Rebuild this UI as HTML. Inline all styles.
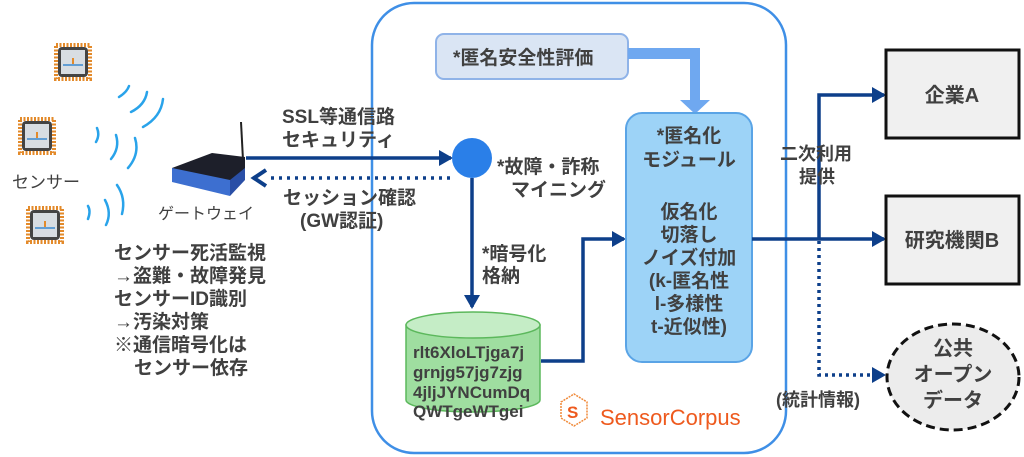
<!DOCTYPE html>
<html><head><meta charset="utf-8"><style>
html,body{margin:0;padding:0;background:#fff;}
svg{display:block;}
text{font-family:"Liberation Sans","Noto Sans CJK JP",sans-serif;font-weight:bold;fill:#404040;}
</style></head><body>
<svg width="1024" height="457" viewBox="0 0 1024 457" xmlns="http://www.w3.org/2000/svg">
<defs>
<marker id="ah" markerWidth="14" markerHeight="16" refX="12" refY="8" orient="auto" markerUnits="userSpaceOnUse"><path d="M0,0 L14,8 L0,16z" fill="#0d3f8a"/></marker>
<g id="chip">
<rect x="-17" y="-17" width="34" height="34" fill="none" stroke="#e38a2a" stroke-width="4" stroke-dasharray="2 1.5"/>
<rect x="-15" y="-15" width="30" height="30" rx="4" fill="#444"/>
<rect x="-12" y="-12" width="24" height="24" fill="#d8dde2"/>
<path d="M-10,3 h20" stroke="#3a8ad0" stroke-width="1.5"/>
<path d="M0,-4 v6" stroke="#e38a2a" stroke-width="2"/>
</g>
</defs>
<rect x="372" y="3" width="414" height="450" rx="42" fill="#fff" stroke="#3f8fe6" stroke-width="2.5"/>
<use href="#chip" x="73" y="62"/>
<use href="#chip" x="37" y="136"/>
<use href="#chip" x="45" y="225"/>
<text x="12" y="188" font-size="17" style="font-weight:normal">センサー</text>
<g fill="none" stroke="#29a3ea" stroke-width="2.5" stroke-linecap="round">
<path d="M119,97 q8,-5 10,-11"/><path d="M131,112 q14,-7 16,-20"/><path d="M143,127 q18,-10 20,-28"/>
<path d="M96,142 q4,-7 1,-14"/><path d="M111,159 q9,-11 5,-24"/><path d="M128,168 q12,-14 7,-30"/>
<path d="M88,219 q3,-8 0,-13"/><path d="M106,225 q6,-12 -1,-25"/><path d="M122,214 q4,-16 -5,-29"/>
</g>
<path d="M241,122 L243,160" stroke="#222" stroke-width="2"/>
<path d="M172,168 L212,153 L245,157 L245,177 L230,192 L172,178z" fill="#1d1f2a"/>
<path d="M172,168 L230,180 L230,196 L172,182z" fill="#3d6fd0"/>
<path d="M230,180 L245,168 L245,180 L230,196z" fill="#2a4fa6"/>
<text x="158" y="219" font-size="16" style="font-weight:normal">ゲートウェイ</text>
<g font-size="19">
<text x="114" y="259">センサー死活監視</text>
<text x="114" y="282">→盗難・故障発見</text>
<text x="114" y="305">センサーID識別</text>
<text x="114" y="328">→汚染対策</text>
<text x="114" y="351">※通信暗号化は</text>
<text x="134" y="374">センサー依存</text>
</g>
<text x="282" y="123" font-size="19">SSL等通信路</text>
<text x="282" y="146" font-size="19">セキュリティ</text>
<line x1="246" y1="158" x2="451" y2="158" stroke="#0d3f8a" stroke-width="3.5" marker-end="url(#ah)"/>
<line x1="450" y1="178" x2="270" y2="178" stroke="#0d3f8a" stroke-width="3.5" stroke-dasharray="3 5"/>
<path d="M266,170 L254,178 L266,186" fill="none" stroke="#0d3f8a" stroke-width="4"/>
<text x="283" y="204" font-size="19">セッション確認</text>
<text x="300" y="227" font-size="19">(GW認証)</text>
<circle cx="472" cy="158" r="20" fill="#2a7fe8"/>
<text x="497" y="173" font-size="19">*故障・詐称</text>
<text x="511" y="196" font-size="19">マイニング</text>
<line x1="472" y1="178" x2="472" y2="307" stroke="#0d3f8a" stroke-width="3.5" marker-end="url(#ah)"/>
<text x="482" y="260" font-size="19">*暗号化</text>
<text x="482" y="282" font-size="19">格納</text>
<path d="M406,325 L406,400 A67,12 0 0 0 540,400 L540,325z" fill="#9fdea0" stroke="#5cb85c" stroke-width="1.5"/>
<ellipse cx="473" cy="325" rx="67" ry="13" fill="#c5edc6" stroke="#5cb85c" stroke-width="1.5"/>
<g font-size="17">
<text x="413" y="358">rlt6XloLTjga7j</text>
<text x="413" y="378">grnjg57jg7zjg</text>
<text x="413" y="398">4jljJYNCumDq</text>
<text x="413" y="417">QWTgeWTgei</text>
</g>
<path d="M541,361 L583,361 L583,239 L624,239" fill="none" stroke="#0d3f8a" stroke-width="3.5" marker-end="url(#ah)"/>
<rect x="436" y="34" width="192" height="45" rx="8" fill="#dae5f4" stroke="#8fb3e8" stroke-width="2"/>
<text x="453" y="64" font-size="19">*匿名安全性評価</text>
<path d="M628,48 L700,48 L700,100 L710,100 L695,114 L680,100 L690,100 L690,59 L628,59z" fill="#6fa8f0"/>
<rect x="626" y="113" width="126" height="249" rx="16" fill="#9dd3f7" stroke="#5aa4e6" stroke-width="2"/>
<g font-size="19" text-anchor="middle">
<text x="689" y="142">*匿名化</text>
<text x="689" y="166">モジュール</text>
<text x="689" y="218">仮名化</text>
<text x="689" y="241">切落し</text>
<text x="689" y="264">ノイズ付加</text>
<text x="689" y="287">(k-匿名性</text>
<text x="689" y="310">l-多様性</text>
<text x="689" y="333">t-近似性)</text>
</g>
<line x1="752" y1="239" x2="884" y2="239" stroke="#0d3f8a" stroke-width="3.5" marker-end="url(#ah)"/>
<path d="M819,239 L819,95 L884,95" fill="none" stroke="#0d3f8a" stroke-width="3.5" marker-end="url(#ah)"/>
<path d="M819,241 L819,375 L872,375" fill="none" stroke="#0d3f8a" stroke-width="3.5" stroke-dasharray="3 4"/>
<path d="M872,367 L886,375 L872,383z" fill="#0d3f8a"/>
<text x="780" y="160" font-size="18">二次利用</text>
<text x="799" y="183" font-size="18">提供</text>
<text x="776" y="406" font-size="18">(統計情報)</text>
<rect x="886" y="50" width="133" height="88" fill="#f0f0f0" stroke="#111" stroke-width="3"/>
<text x="952" y="102" font-size="20" text-anchor="middle">企業A</text>
<rect x="886" y="196" width="133" height="88" fill="#f0f0f0" stroke="#111" stroke-width="3"/>
<text x="952" y="247" font-size="20" text-anchor="middle">研究機関B</text>
<ellipse cx="953" cy="377" rx="66" ry="53" fill="#ececec" stroke="#111" stroke-width="3" stroke-dasharray="9 5"/>
<g font-size="20" text-anchor="middle">
<text x="953" y="355">公共</text>
<text x="953" y="381">オープン</text>
<text x="953" y="407">データ</text>
</g>
<path d="M561,402 l13,-8 l13,8 v16 l-13,8 l-13,-8z" fill="none" stroke="#f08a3a" stroke-width="1.5" stroke-dasharray="2 1"/>
<text x="567" y="418" font-size="17" style="fill:#ee5a1e">S</text>
<text x="600" y="425" font-size="22" style="fill:#ee5a1e;font-weight:normal">SensorCorpus</text>
</svg>
</body></html>
